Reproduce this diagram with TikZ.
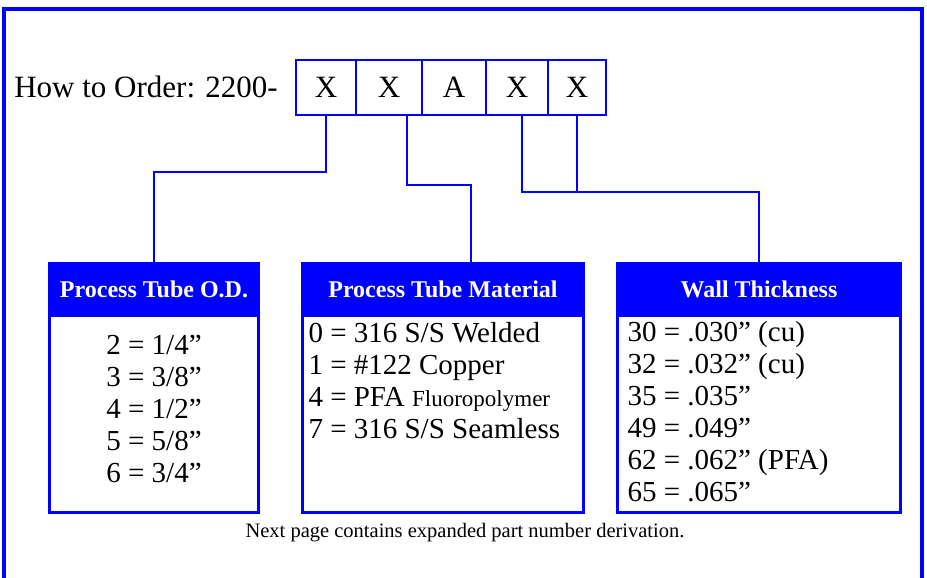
\documentclass[tikz,border=0pt]{standalone}
\usepackage{fontspec}
\setmainfont{Liberation Serif}
\usetikzlibrary{positioning,calc}
\definecolor{ordblue}{RGB}{0,0,255}

\begin{document}
\begin{tikzpicture}[x=1pt, y=-1pt,
  cell/.style={draw=ordblue, line width=2pt, outer sep=0pt, minimum height=55pt,
    inner sep=0pt, font=\fontsize{31}{36}\selectfont},
  panel/.style={draw=ordblue, line width=3pt, anchor=north west,
    minimum height=249pt, inner sep=0pt},
  head/.style={fill=ordblue, text=white, anchor=north, minimum height=55pt,
    inner sep=0pt, font=\bfseries\fontsize{24}{28}\selectfont},
  items/.style={align=left, inner sep=0pt, font=\fontsize{29}{32}\selectfont},
  link/.style={draw=ordblue, line width=2pt}
]
  \useasboundingbox (0,0) rectangle (927,578);
  \draw[ordblue, line width=3.5pt] (4,580) -- (4,9) -- (922,9) -- (922,580);

  % order code
  \node[cell, minimum width=60pt] (c1) at (326,87.5) {X};
  \node[cell, minimum width=66pt, right=0pt of c1] (c2) {X};
  \node[cell, minimum width=64pt, right=0pt of c2] (c3) {A};
  \node[cell, minimum width=62pt, right=0pt of c3] (c4) {X};
  \node[cell, minimum width=58pt, right=0pt of c4] (c5) {X};
  \node[base left=18pt of c1, inner sep=0pt, font=\fontsize{31}{36}\selectfont] (order)
    {How to Order: 2200-};

  % option panels
  \node[panel, minimum width=209pt] (od) at (48,262) {};
  \node[head, minimum width=209pt] (odhead) at (od.north) {Process Tube O.D.};
  \node[items, align=center, anchor=north] (odlist) at ([yshift=-18pt]odhead.south)
    {2 = 1/4”\\3 = 3/8”\\4 = 1/2”\\5 = 5/8”\\6 = 3/4”};

  \node[panel, minimum width=281pt] (mat) at (301,262) {};
  \node[head, minimum width=281pt] (mathead) at (mat.north) {Process Tube Material};
  \node[items, anchor=north west] (matlist) at ([xshift=6pt, yshift=-5pt]mathead.south west)
    {0 = 316 S/S Welded\\1 = \#122 Copper\\4 = PFA {\fontsize{23}{32}\selectfont Fluoropolymer}\\7 = 316 S/S Seamless};

  \node[panel, minimum width=283pt] (wall) at (616,262) {};
  \node[head, minimum width=283pt] (wallhead) at (wall.north) {Wall Thickness};
  \node[items, anchor=north west] (walllist) at ([xshift=10pt, yshift=-4pt]wallhead.south west)
    {30 = .030” (cu)\\32 = .032” (cu)\\35 = .035”\\49 = .049”\\62 = .062” (PFA)\\65 = .065”};

  \node[font=\fontsize{20.5}{24}\selectfont] (note) at (465,533)
    {Next page contains expanded part number derivation.};

  % connectors
  \draw[link] (c1.south) -- ++(0,57) -| (od.north);
  \draw[link] ([xshift=18pt]c2.south) -- ++(0,70) -| ([xshift=28pt]mat.north);
  \draw[link] ([xshift=5pt]c4.south) -- ++(0,77) coordinate (join) -| (wall.north);
  \draw[link] (c5.south) -- (c5.south |- join);
\end{tikzpicture}
\end{document}
